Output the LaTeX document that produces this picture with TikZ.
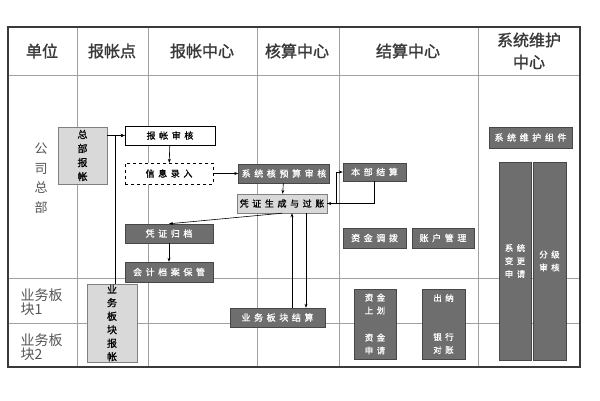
\documentclass[tikz,border=0pt]{standalone}
\usepackage{fontspec}
\setmainfont{Noto Sans CJK SC}
\newfontfamily\headfont[FakeBold=1.5]{Noto Sans CJK SC}
\newfontfamily\boxfont[LetterSpace=40, FakeBold=1]{Noto Sans CJK SC}
\definecolor{flGrid}{HTML}{A0A0A0}
\definecolor{flFrame}{HTML}{3A3A3A}
\definecolor{flDark}{HTML}{6E6E6E}
\definecolor{flEdge}{HTML}{474747}
\definecolor{flLight}{HTML}{D9D9D9}
\definecolor{flLabel}{HTML}{555555}
\usetikzlibrary{arrows.meta}

\begin{document}
\begin{tikzpicture}[x=1pt, y=-1pt,
  head/.style={font=\headfont\fontsize{16}{22}\selectfont, text=flFrame, align=center},
  lane/.style={font=\fontsize{14}{14}\selectfont, text=flLabel, align=left, anchor=west},
  box/.style={inner sep=0pt, align=center, font=\boxfont\fontsize{9}{12}\selectfont},
  dark/.style={box, fill=flDark, draw=flEdge, text=white},
  light/.style={box, fill=flLight, draw=gray, text=black},
  blank/.style={box, fill=white, draw=black, text=black},
  arr/.style={-{Stealth[length=4pt,width=3pt]}, line width=0.6pt}
]
  \fill[white] (0,0) rectangle (600,400);
  \useasboundingbox (0,0) rectangle (600,400);

  \draw[flGrid, line width=0.8pt] (8,75) -- (580,75) (8,278) -- (580,278) (8,323) -- (580,323);
  \foreach \x in {77,148,257,339,478}
    \draw[flGrid, line width=0.8pt] (\x,27) -- (\x,367);
  \draw[flFrame, line width=1.2pt] (8,27) rectangle (580,367);

  \node[head] (hunit) at (42,51) {单位};
  \node[head] (hpoint) at (112,51) {报帐点};
  \node[head] (hclaim) at (202,51) {报帐中心};
  \node[head] (hacct) at (297,51) {核算中心};
  \node[head] (hsettle) at (408,51) {结算中心};
  \node[head] (hsys) at (529,51) {系统维护\\中心};

  \node[lane, align=center, anchor=center, font=\fontsize{13}{19.5}\selectfont] (lhq) at (41,178) {公\\司\\总\\部};
  \node[lane] (lseg1) at (17,302) {业务板\\块1};
  \node[lane] (lseg2) at (17,347) {业务板\\块2};

  \node[light, minimum width=49, minimum height=57, font=\boxfont\fontsize{10}{14}\selectfont] (hqclaim) at (82.5,155.5) {总\\部\\报\\帐};
  \node[light, minimum width=50, minimum height=78, font=\boxfont\fontsize{10}{13.5}\selectfont] (segclaim) at (112,323) {业\\务\\板\\块\\报\\帐};

  \node[blank, minimum width=90, minimum height=19] (review) at (170,135.5) {报帐审核};
  \node[blank, dashed, minimum width=88, minimum height=21] (entry) at (169,173.5) {信息录入};
  \node[dark, minimum width=88, minimum height=19] (archive) at (169,233.5) {凭证归档};
  \node[dark, minimum width=88, minimum height=20] (keep) at (169,272) {会计档案保管};

  \node[dark, minimum width=91, minimum height=19] (budget) at (284,173.5) {系统核预算审核};
  \node[light, minimum width=90, minimum height=19] (voucher) at (282,203.5) {凭证生成与过账};
  \node[dark, minimum width=95, minimum height=19] (segsettle) at (277.5,317.5) {业务板块结算};

  \node[dark, minimum width=63, minimum height=18] (local) at (374.5,172) {本部结算};
  \node[dark, minimum width=63, minimum height=20] (funds) at (374.5,238) {资金调拨};
  \node[dark, minimum width=62, minimum height=20] (account) at (443,238) {账户管理};
  \node[dark, minimum width=42, minimum height=70, font=\boxfont\fontsize{8.5}{13}\selectfont] (transfer) at (375,324) {资金\\上划\\[14pt]资金\\申请};
  \node[dark, minimum width=43, minimum height=70, font=\boxfont\fontsize{8.5}{13}\selectfont] (cashier) at (443.5,324) {出纳\\[26pt]银行\\对账};

  \node[dark, minimum width=83, minimum height=21] (sysmaint) at (530.5,137.5) {系统维护组件};
  \node[dark, minimum width=32, minimum height=198, font=\boxfont\fontsize{8.5}{13}\selectfont] (change) at (515,261) {系统\\变更\\申请};
  \node[dark, minimum width=33, minimum height=198, font=\boxfont\fontsize{8.5}{13}\selectfont] (grade) at (549.5,261) {分级\\审核};

  \draw[arr] (hqclaim.east |- review.west) -- (review.west);
  \draw[arr] ([xshift=3]segclaim.north) |- (review.west);
  \draw[arr] (review) -- (entry);
  \draw[arr] (entry) -- (budget);
  \draw[arr] (budget) -- (voucher);
  \draw[arr] (voucher.south) -- (archive.north);
  \draw[arr] (archive) -- (keep);
  \draw[arr] (local.south) |- (voucher.east);
  \draw[arr] (voucher.east) -- ++(9,0) |- (local.west);
  \draw[arr] ([xshift=14.5]segsettle.north) -- ([xshift=14.5]segsettle.north |- voucher.south);
  \draw[arr] ([xshift=28.5]segsettle.north |- voucher.south) -- ([xshift=28.5]segsettle.north);
\end{tikzpicture}
\end{document}
